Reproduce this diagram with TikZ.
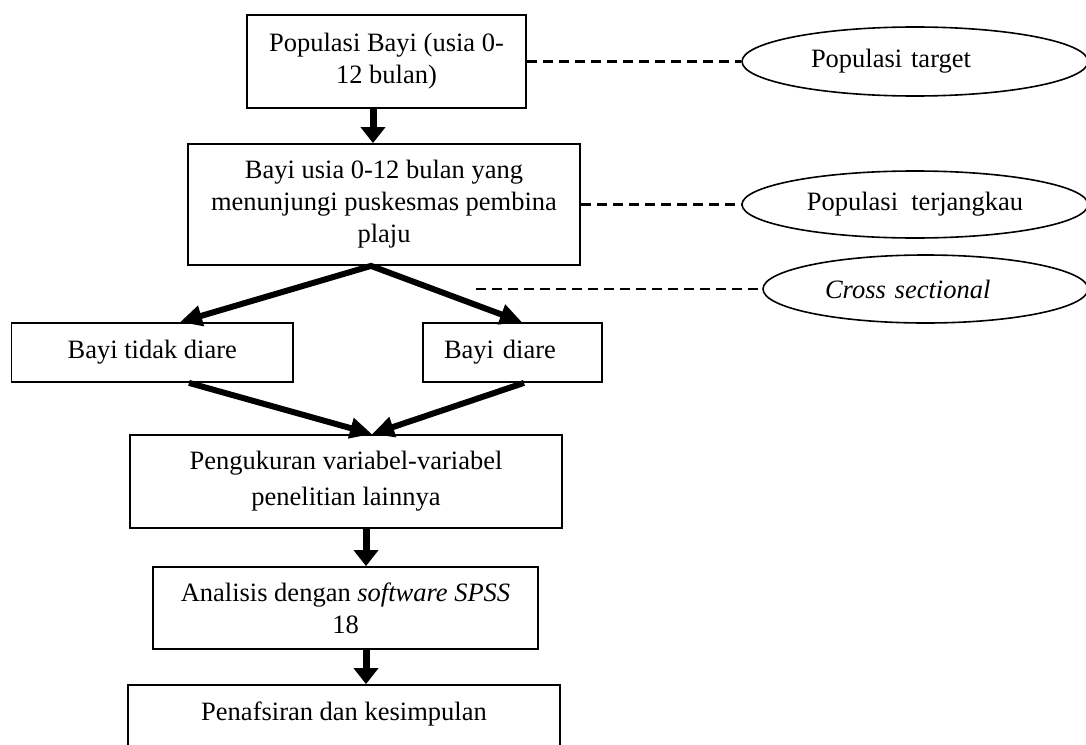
\documentclass[tikz,border=0pt]{standalone}
\usepackage{fontspec}
\setmainfont{Liberation Serif}
\usetikzlibrary{arrows.meta,shapes.geometric}
\begin{document}
\begin{tikzpicture}[x=1pt,y=-1pt,
  every node/.style={font=\fontsize{26.5}{32}\selectfont},
  box/.style={draw, line width=1.8pt, align=center, inner sep=0pt},
  oval/.style={draw, ellipse, line width=1.6pt, inner sep=0pt},
  varr/.style={line width=7pt, -{Triangle[length=16pt,width=24pt]}},
  darr/.style={line width=6pt, -{Triangle[length=22pt,width=20pt]}},
  splitarr/.style={line width=6pt, line join=miter, {Triangle[length=22pt,width=20pt]}-{Triangle[length=22pt,width=20pt]}},
  dashline/.style={line width=2.8pt, dash pattern=on 10pt off 6pt}]
\useasboundingbox (0,0) rectangle (1086,744);
% boxes
\node[box, minimum width=279pt, minimum height=93pt] (b1) at (386.5,61.5) {Populasi Bayi (usia 0-\\12 bulan)};
\node[box, minimum width=392pt, minimum height=121pt] (b2) at (384,204.5) {Bayi usia 0-12 bulan yang\\menunjungi puskesmas pembina\\plaju};
\node[box, minimum width=281.5pt, minimum height=59pt] (t) at (152.25,352.5) {Bayi tidak diare};
\node[box, minimum width=179pt, minimum height=59pt, text width=137pt, align=left] (d) at (512.5,352.5) {Bayi diare};
\node[box, minimum width=432pt, minimum height=93pt, font=\fontsize{26.5}{36}\selectfont] (b3) at (346,481.5) {Pengukuran variabel-variabel\\penelitian lainnya};
\node[box, minimum width=385pt, minimum height=82pt] (b4) at (345.5,608) {Analisis dengan \textit{software SPSS}\\18};
\node[box, minimum width=432pt, text height=35pt, text depth=70pt, anchor=base] (b5) at (344,720) {Penafsiran dan kesimpulan};
% ellipses
\node[oval, minimum width=346pt, minimum height=69pt, text width=208pt, align=left] (e1) at (915,61.5) {Populasi target};
\node[oval, minimum width=346pt, minimum height=67pt] (e2) at (915,204.5) {Populasi\ \ terjangkau};
\node[oval, minimum width=325pt, minimum height=68pt, text width=201pt, align=left] (e3) at (925.5,289) {\textit{Cross sectional}};
% dashed connectors
\coordinate (cs) at (476,289);
\draw[dashline] (b1.east) -- (e1.west);
\draw[dashline] (b2.east) -- (e2.west);
\draw[dashline] (cs) -- (e3.west);
% arrow x positions
\coordinate (ax) at (373,0);
\coordinate (vx) at (371,0);
\coordinate (tx) at (180,0);
\coordinate (dx) at (522,0);
\coordinate (tbx) at (189,0);
\coordinate (dbx) at (524,0);
\coordinate (mx) at (372,0);
\coordinate (bx) at (366,0);
% arrows
\draw[varr] (b1.south -| ax) -- (b2.north -| ax);
\draw[splitarr] (t.north -| tx) -- (b2.south -| vx) -- (d.north -| dx);
\draw[darr] (t.south -| tbx) -- (b3.north -| mx);
\draw[darr] (d.south -| dbx) -- (b3.north -| mx);
\draw[varr] (b3.south -| bx) -- (b4.north -| bx);
\draw[varr] (b4.south -| bx) -- (b5.north -| bx);
\end{tikzpicture}
\end{document}
